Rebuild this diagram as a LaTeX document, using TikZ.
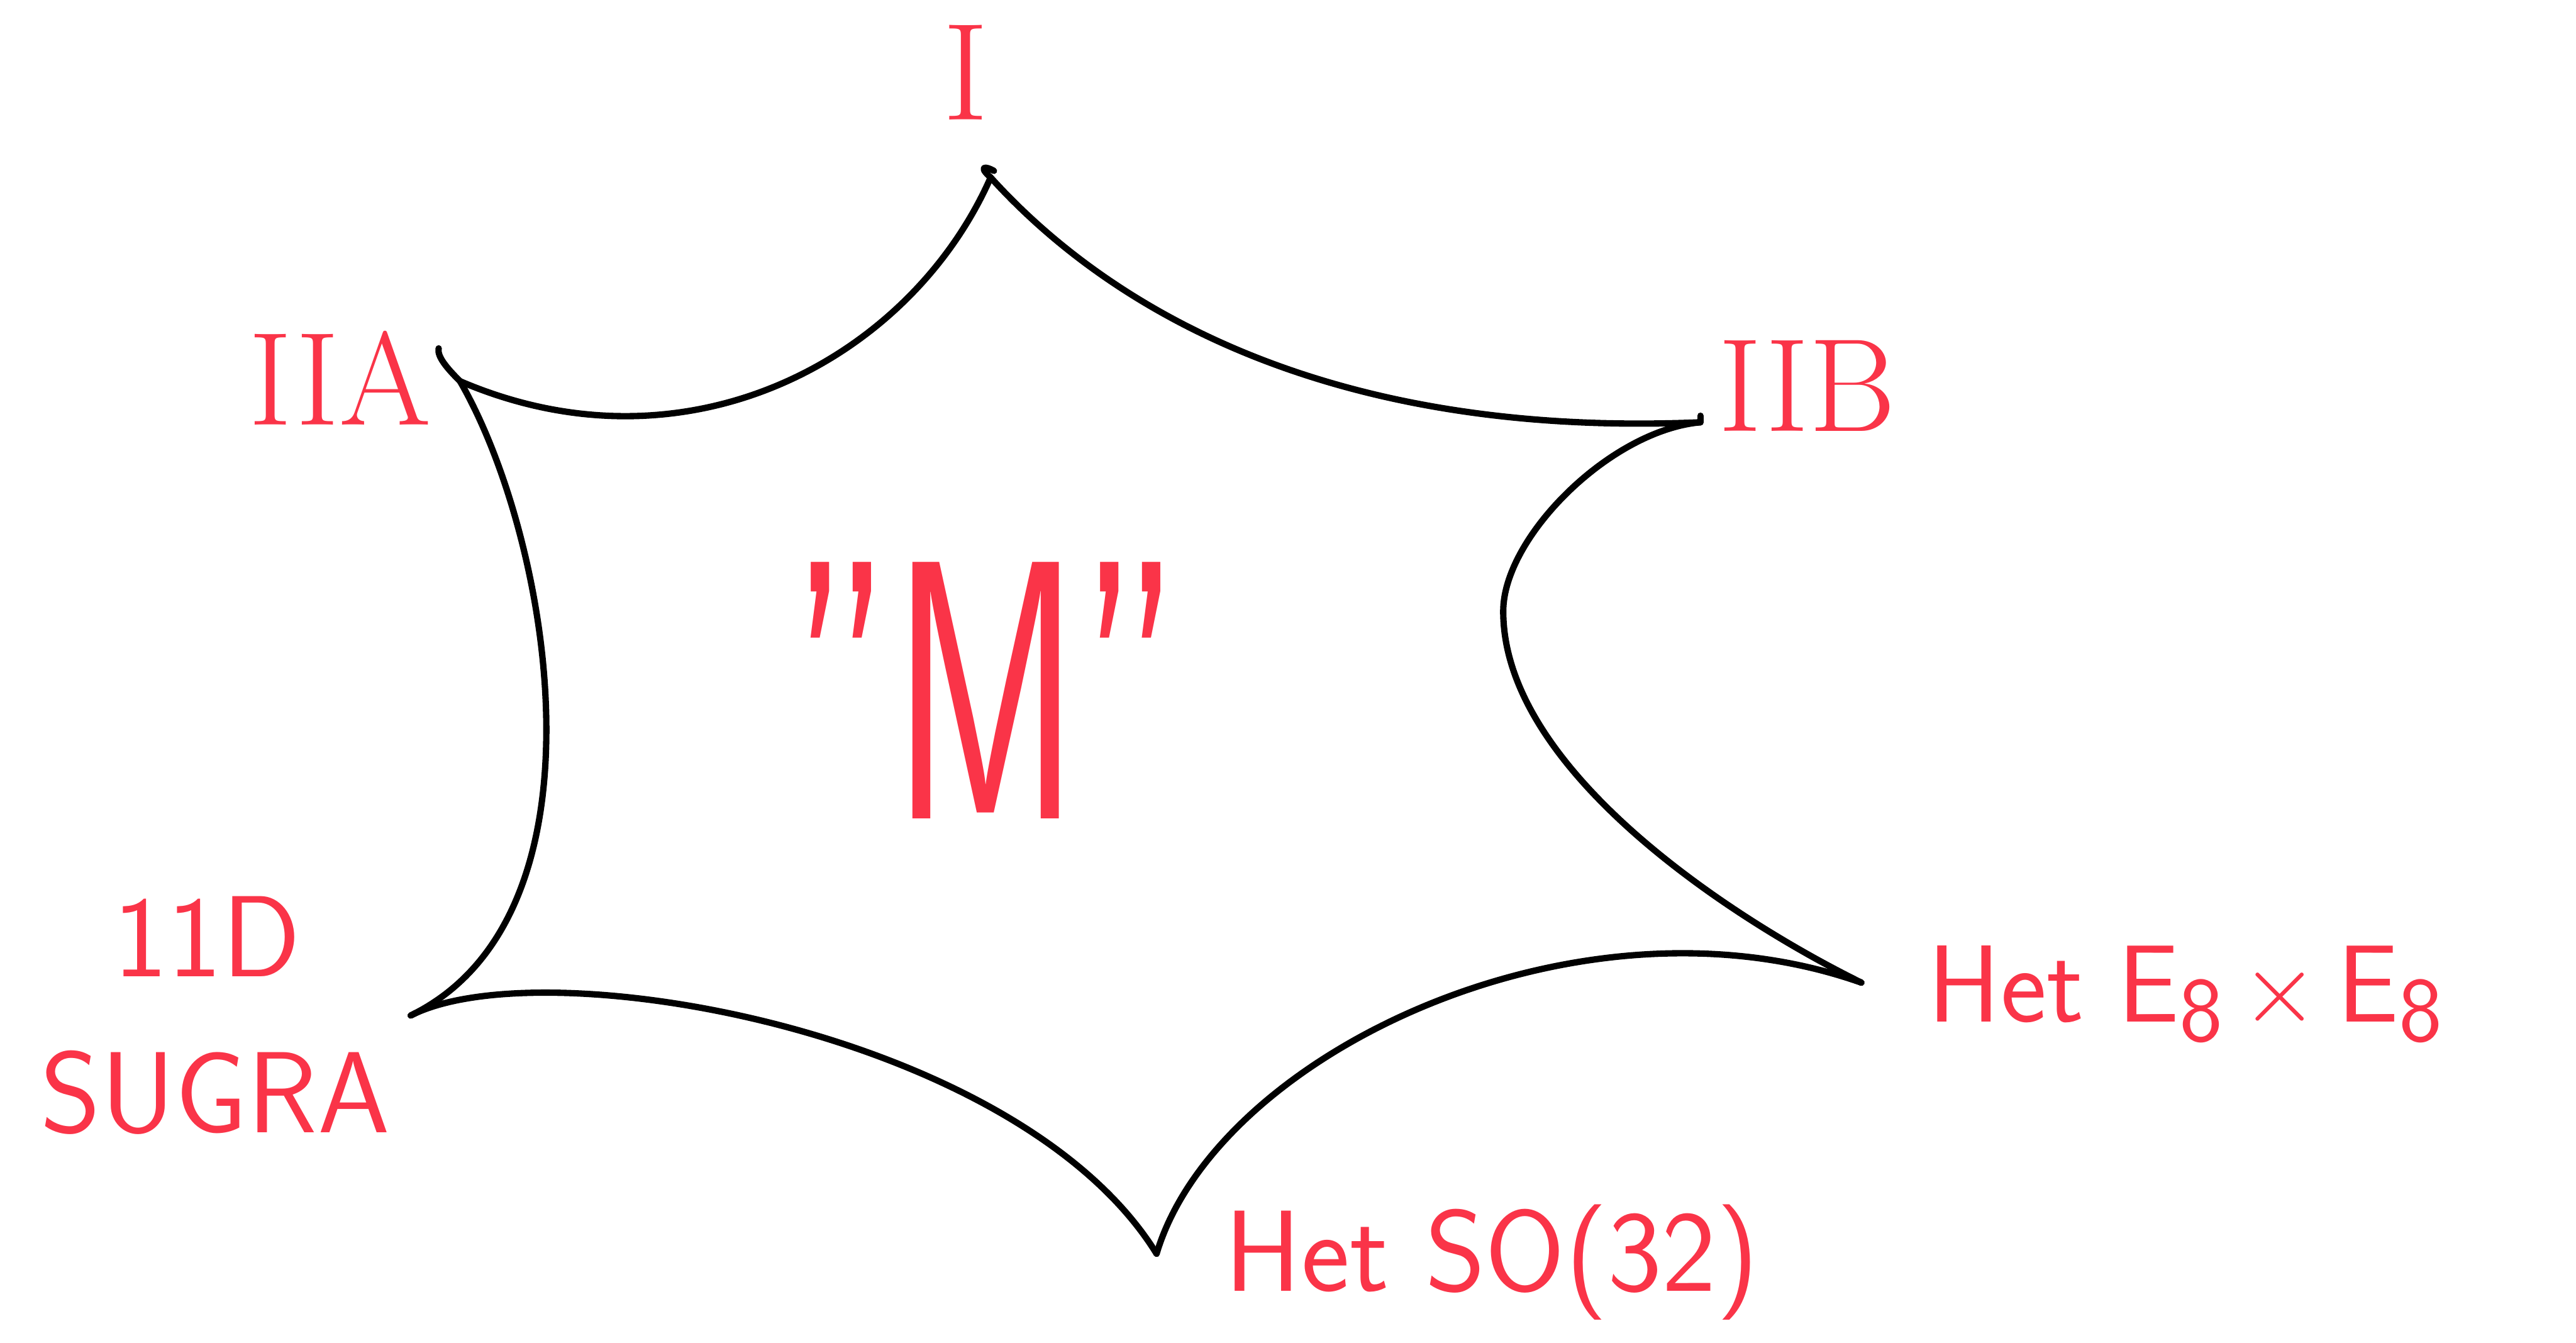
\documentclass[tikz,border=0pt]{standalone}
\definecolor{sketchred}{RGB}{250,52,72}
\tikzset{
  edge/.style={line width=1.1pt, line cap=round, line join=round},
  lbl/.style={text=sketchred, inner sep=0pt},
  numlbl/.style={lbl, font=\rmfamily\fontsize{24}{24}\selectfont},
  namelbl/.style={lbl, font=\sffamily\fontsize{20}{22}\selectfont, align=center},
}
\newcommand{\lowdigit}[1]{\raisebox{-0.18em}{\fontsize{16}{16}\selectfont #1}}
\begin{document}
\begin{tikzpicture}[x=1cm,y=1cm]
\useasboundingbox (0,0) rectangle (15.68,8.17);

% cusps of the star
\coordinate (I) at (6.03,7.09);
\coordinate (IIB) at (10.35,5.60);
\coordinate (E8) at (11.33,2.19);
\coordinate (SO) at (7.04,0.54);
\coordinate (SUGRA) at (2.50,1.99);
\coordinate (IIA) at (2.80,5.85);
\coordinate (bend) at (9.15,4.45);

% edges
\draw[edge] (I) .. controls (6.7,6.35) and (8.0,5.5) .. (IIB);
\draw[edge] (I) .. controls (5.55,6.0) and (4.2,5.25) .. (IIA);
\draw[edge] (IIA) .. controls (3.35,4.9) and (3.75,2.6) .. (SUGRA);
\draw[edge] (SUGRA) .. controls (3.3,2.4) and (6.2,1.9) .. (SO);
\draw[edge] (SO) .. controls (7.4,1.75) and (9.6,2.8) .. (E8);
\draw[edge] (E8) .. controls (10.5,2.6) and (9.15,3.5) .. (bend)
  .. controls (9.15,4.9) and (9.8,5.55) .. (IIB);

% little tails at the tips
\draw[edge] (I) .. controls (5.95,7.16) and (6.0,7.16) .. (6.05,7.13);
\draw[edge] (IIA) .. controls (2.72,5.93) and (2.66,6.0) .. (2.67,6.05);
\draw[edge] (IIB) -- (10.35,5.64);

% labels
\node[numlbl] (lI) at (5.88,7.73) {I};
\node[numlbl, font=\rmfamily\fontsize{23}{23}\selectfont] (lIIA) at (2.07,5.87) {IIA};
\node[numlbl, font=\rmfamily\fontsize{23}{23}\selectfont] (lIIB) at (11.0,5.82) {IIB};
\node[namelbl] (l11D) at (1.26,2.47) {11D};
\node[namelbl] (lSUGRA) at (1.31,1.52) {SUGRA};
\node[namelbl, font=\sffamily\fontsize{19}{20}\selectfont] (lE8) at (13.3,2.12) {Het E\lowdigit{8}\,$\times$\,E\lowdigit{8}};
\node[namelbl] (lSO) at (9.08,0.49) {Het SO(32)};
\node[lbl, font=\sffamily\fontsize{64}{64}\selectfont] (lM) at (6.0,3.97) {\scalebox{0.62}[1]{"M"}};
\end{tikzpicture}
\end{document}
